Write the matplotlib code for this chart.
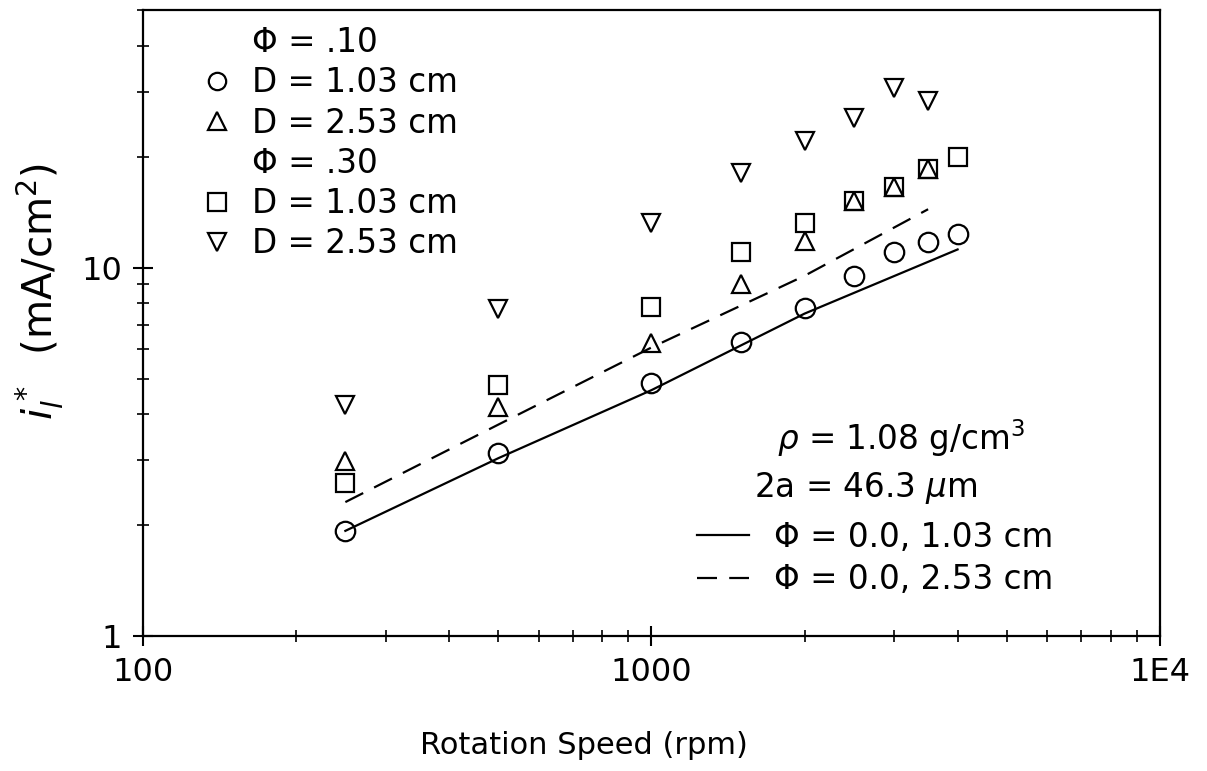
import matplotlib
matplotlib.use("Agg")
import matplotlib.pyplot as plt
from matplotlib.lines import Line2D
from matplotlib.ticker import FixedLocator, FixedFormatter, LogLocator, NullFormatter

plt.rcParams['font.family'] = 'DejaVu Sans'
plt.rcParams['mathtext.fontset'] = 'dejavusans'

# Data (rpm vs limiting current density, mA/cm2)
rpm = [250, 500, 1000, 1500, 2000, 2500, 3000, 3500, 4000]
phi10_d103 = [1.93, 3.13, 4.85, 6.27, 7.75, 9.46, 11.04, 11.75, 12.36]
phi10_d253 = [2.98, 4.18, 6.26, 9.0, 11.8, 15.2, 16.5, 18.5]
phi30_d103 = [2.6, 4.79, 7.84, 11.0, 13.2, 15.2, 16.5, 18.5, 20.0]
phi30_d253 = [4.25, 7.7, 13.2, 18.1, 22.1, 25.5, 30.7, 28.4]

# phi = 0 model curves
rpm_fit1 = [250, 500, 1000, 2000, 4000]
fit_d103 = [1.93, 3.04, 4.65, 7.5, 11.2]
rpm_fit2 = [250, 500, 1000, 2000, 3500]
fit_d253 = [2.31, 3.75, 6.07, 9.5, 14.4]

fig = plt.figure(figsize=(12.07, 7.71), dpi=100)
ax = fig.add_axes([0.1185, 0.175, 0.8425, 0.812])

mk = dict(linestyle='none', markerfacecolor='none', markeredgecolor='black',
          markeredgewidth=1.6)
ax.plot(rpm, phi10_d103, marker='o', markersize=14, **mk)
ax.plot(rpm[:8], phi10_d253, marker='^', markersize=13, **mk)
ax.plot(rpm, phi30_d103, marker='s', markersize=13, **mk)
ax.plot(rpm[:8], phi30_d253, marker='v', markersize=13, **mk)

l1, = ax.plot(rpm_fit1, fit_d103, color='black', lw=1.6)
l2, = ax.plot(rpm_fit2, fit_d253, color='black', lw=1.6, dashes=(9, 5.5))

ax.set_xscale('log')
ax.set_yscale('log')
ax.set_xlim(100, 1e4)
ax.set_ylim(1, 50)

ax.xaxis.set_major_locator(FixedLocator([100, 1000, 10000]))
ax.xaxis.set_major_formatter(FixedFormatter(['100', '1000', '1E4']))
ax.yaxis.set_major_locator(FixedLocator([1, 10]))
ax.yaxis.set_major_formatter(FixedFormatter(['1', '10']))
ax.xaxis.set_minor_locator(LogLocator(base=10, subs=range(2, 10)))
ax.yaxis.set_minor_locator(LogLocator(base=10, subs=range(2, 10)))
ax.xaxis.set_minor_formatter(NullFormatter())
ax.yaxis.set_minor_formatter(NullFormatter())
ax.tick_params(which='major', direction='inout', length=14, width=1.5,
               labelsize=23, top=False, right=False, pad=8)
ax.tick_params(which='minor', direction='inout', length=8, width=1.2,
               top=False, right=False)
for s in ax.spines.values():
    s.set_linewidth(1.6)

ax.set_xlabel('Rotation Speed (rpm)', fontsize=22)
ax.xaxis.set_label_coords(0.434, -0.152)
ax.set_ylabel(r'$i_l^*$  (mA/cm$^2$)', fontsize=29)
ax.yaxis.set_label_coords(-0.076, 0.55)

blank = Line2D([], [], linestyle='none')
hmk = dict(linestyle='none', markerfacecolor='none', markeredgecolor='black',
           markeredgewidth=1.6, markersize=12.5)
handles = [blank,
           Line2D([], [], marker='o', **hmk),
           Line2D([], [], marker='^', **hmk),
           blank,
           Line2D([], [], marker='s', **hmk),
           Line2D([], [], marker='v', **hmk)]
labels = ['Φ = .10', 'D = 1.03 cm', 'D = 2.53 cm',
          'Φ = .30', 'D = 1.03 cm', 'D = 2.53 cm']
leg1 = ax.legend(handles, labels, loc='upper left', bbox_to_anchor=(0.057, 0.974),
                 frameon=False, fontsize=23.5, handlelength=1.0, handletextpad=0.55,
                 labelspacing=0.22, borderpad=0, borderaxespad=0)
ax.add_artist(leg1)

ax.legend([l1, l2], ['Φ = 0.0, 1.03 cm', 'Φ = 0.0, 2.53 cm'], loc='upper left',
          bbox_to_anchor=(0.545, 0.184), frameon=False, fontsize=23.5,
          handlelength=1.6, handletextpad=0.75, labelspacing=0.28,
          borderpad=0, borderaxespad=0)

ax.text(0.623, 0.317, r'$\rho$ = 1.08 g/cm$^3$', transform=ax.transAxes,
        fontsize=23.5, ha='left', va='center')
ax.text(0.601, 0.237, r'2a = 46.3 $\mu$m', transform=ax.transAxes,
        fontsize=23.5, ha='left', va='center')

fig.savefig('out.png', dpi=100)
